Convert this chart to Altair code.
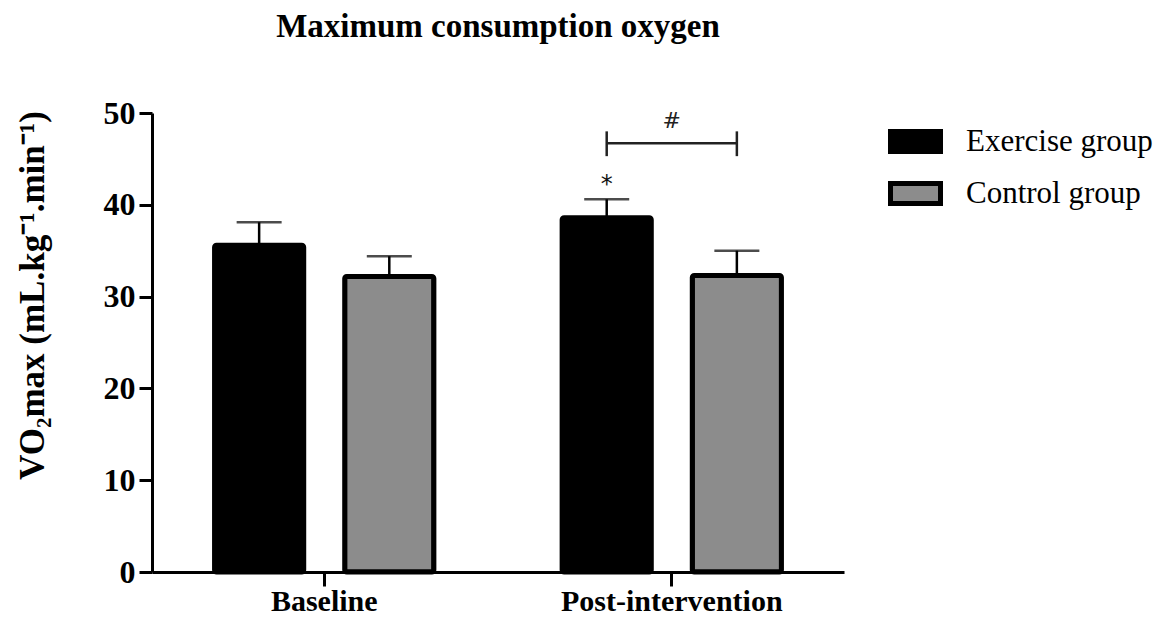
import altair as alt
import pandas as pd

periods = ["Baseline", "Post-intervention"]
groups = ["Exercise group", "Control group"]
exercise_mean = [35.6, 38.6]
exercise_sem = [2.5, 2.0]
control_mean = [32.2, 32.3]
control_sem = [2.2, 2.7]

# significance annotations
star_period = ["Post-intervention"]
star_group = ["Exercise group"]
star_y = [42.2]
bracket_period = ["Post-intervention", "Post-intervention"]
bracket_groups = ["Exercise group", "Control group"]
bracket_y = [46.7, 46.7]
bracket_low = [45.3, 45.3]
bracket_high = [48.0, 48.0]
hash_period = ["Post-intervention"]
hash_y = [49.1]

rows = []
for i, p in enumerate(periods):
    rows.append({"period": p, "group": groups[0], "mean": exercise_mean[i],
                 "upper": exercise_mean[i] + exercise_sem[i]})
    rows.append({"period": p, "group": groups[1], "mean": control_mean[i],
                 "upper": control_mean[i] + control_sem[i]})
df = pd.DataFrame(rows)

star_df = pd.DataFrame({"period": star_period, "group": star_group, "y": star_y, "t": ["*"]})
br_df = pd.DataFrame({"period": bracket_period, "group": bracket_groups, "y": bracket_y,
                      "lo": bracket_low, "hi": bracket_high})
hash_df = pd.DataFrame({"period": hash_period, "y": hash_y, "t": ["#"]})

SERIF = "Liberation Serif"

xscale = alt.Scale(domain=periods, paddingInner=0.369, paddingOuter=0.18)
xoff = alt.XOffset("group:N", scale=alt.Scale(domain=groups, paddingInner=0.315, paddingOuter=0))
yscale = alt.Scale(domain=[0, 50])

x_enc = alt.X("period:N", scale=xscale, sort=periods,
              axis=alt.Axis(title=None, labelAngle=0, labelFont=SERIF, labelFontSize=30,
                            labelFontWeight="bold", labelColor="black", tickSize=14, tickWidth=3,
                            tickColor="black", domainWidth=3, domainColor="black",
                            labelPadding=0, labelLimit=0, zindex=1))

bars = alt.Chart(df).mark_bar(stroke="black", strokeWidth=5, cornerRadius=2).encode(
    x=x_enc,
    xOffset=xoff,
    y=alt.Y("mean:Q", scale=yscale,
            axis=alt.Axis(values=[0, 10, 20, 30, 40, 50], grid=False,
                          title="VO\u2082max (mL.kg\u207b\u00b9.min\u207b\u00b9)",
                          titleFont=SERIF, titleFontSize=35, titleFontWeight="bold",
                          titleColor="black", titlePadding=53, titleY=182, titleLimit=0,
                          labelFont=SERIF, labelFontSize=32, labelFontWeight="bold",
                          labelColor="black", labelPadding=4, tickSize=13, tickWidth=3,
                          tickColor="black", domainWidth=3, domainColor="black", zindex=1)),
    color=alt.Color("group:N", scale=alt.Scale(domain=groups, range=["#000000", "#8c8c8c"]),
                    legend=alt.Legend(title=None, orient="none", legendX=736, legendY=1,
                                      symbolType="M-1,-0.4H1V0.4H-1Z", symbolSize=2500,
                                      symbolStrokeColor="black", symbolStrokeWidth=5,
                                      symbolOpacity=1, labelFont=SERIF, labelFontSize=31,
                                      labelColor="black", labelOffset=23, rowPadding=4,
                                      labelLimit=0, padding=0)),
)

err = alt.Chart(df).mark_rule(color="black", strokeWidth=2.5).encode(
    x=alt.X("period:N", scale=xscale, sort=periods), xOffset=xoff,
    y=alt.Y("mean:Q", scale=yscale), y2="upper:Q")

caps = alt.Chart(df).mark_tick(color="black", thickness=2.5, size=45, orient="horizontal").encode(
    x=alt.X("period:N", scale=xscale, sort=periods), xOffset=xoff,
    y=alt.Y("upper:Q", scale=yscale))

bracket_line = alt.Chart(br_df).mark_line(color="#222222", strokeWidth=2.5).encode(
    x=alt.X("period:N", scale=xscale, sort=periods), xOffset=xoff,
    y=alt.Y("y:Q", scale=yscale))

bracket_ends = alt.Chart(br_df).mark_rule(color="#222222", strokeWidth=2.5).encode(
    x=alt.X("period:N", scale=xscale, sort=periods), xOffset=xoff,
    y=alt.Y("lo:Q", scale=yscale), y2="hi:Q")

star = alt.Chart(star_df).mark_text(font="DejaVu Sans", fontSize=24, color="#111111",
                                     baseline="middle").encode(
    x=alt.X("period:N", scale=xscale, sort=periods), xOffset=xoff,
    y=alt.Y("y:Q", scale=yscale), text="t:N")

hsh = alt.Chart(hash_df).mark_text(font="DejaVu Sans", fontSize=22, color="#222222",
                                    baseline="middle").encode(
    x=alt.X("period:N", scale=xscale, sort=periods),
    y=alt.Y("y:Q", scale=yscale), text="t:N")

chart = alt.layer(bars, err, caps, bracket_line, bracket_ends, star, hsh).properties(
    width=692, height=459,
    title=alt.TitleParams("Maximum consumption oxygen", font=SERIF, fontSize=33,
                          fontWeight="bold", color="black", anchor="middle", offset=53),
    padding={"left": 7, "top": 3, "right": 5, "bottom": 0},
).configure_view(stroke=None)

chart.save("out.html", embed_options={"renderer": "svg", "actions": False})
